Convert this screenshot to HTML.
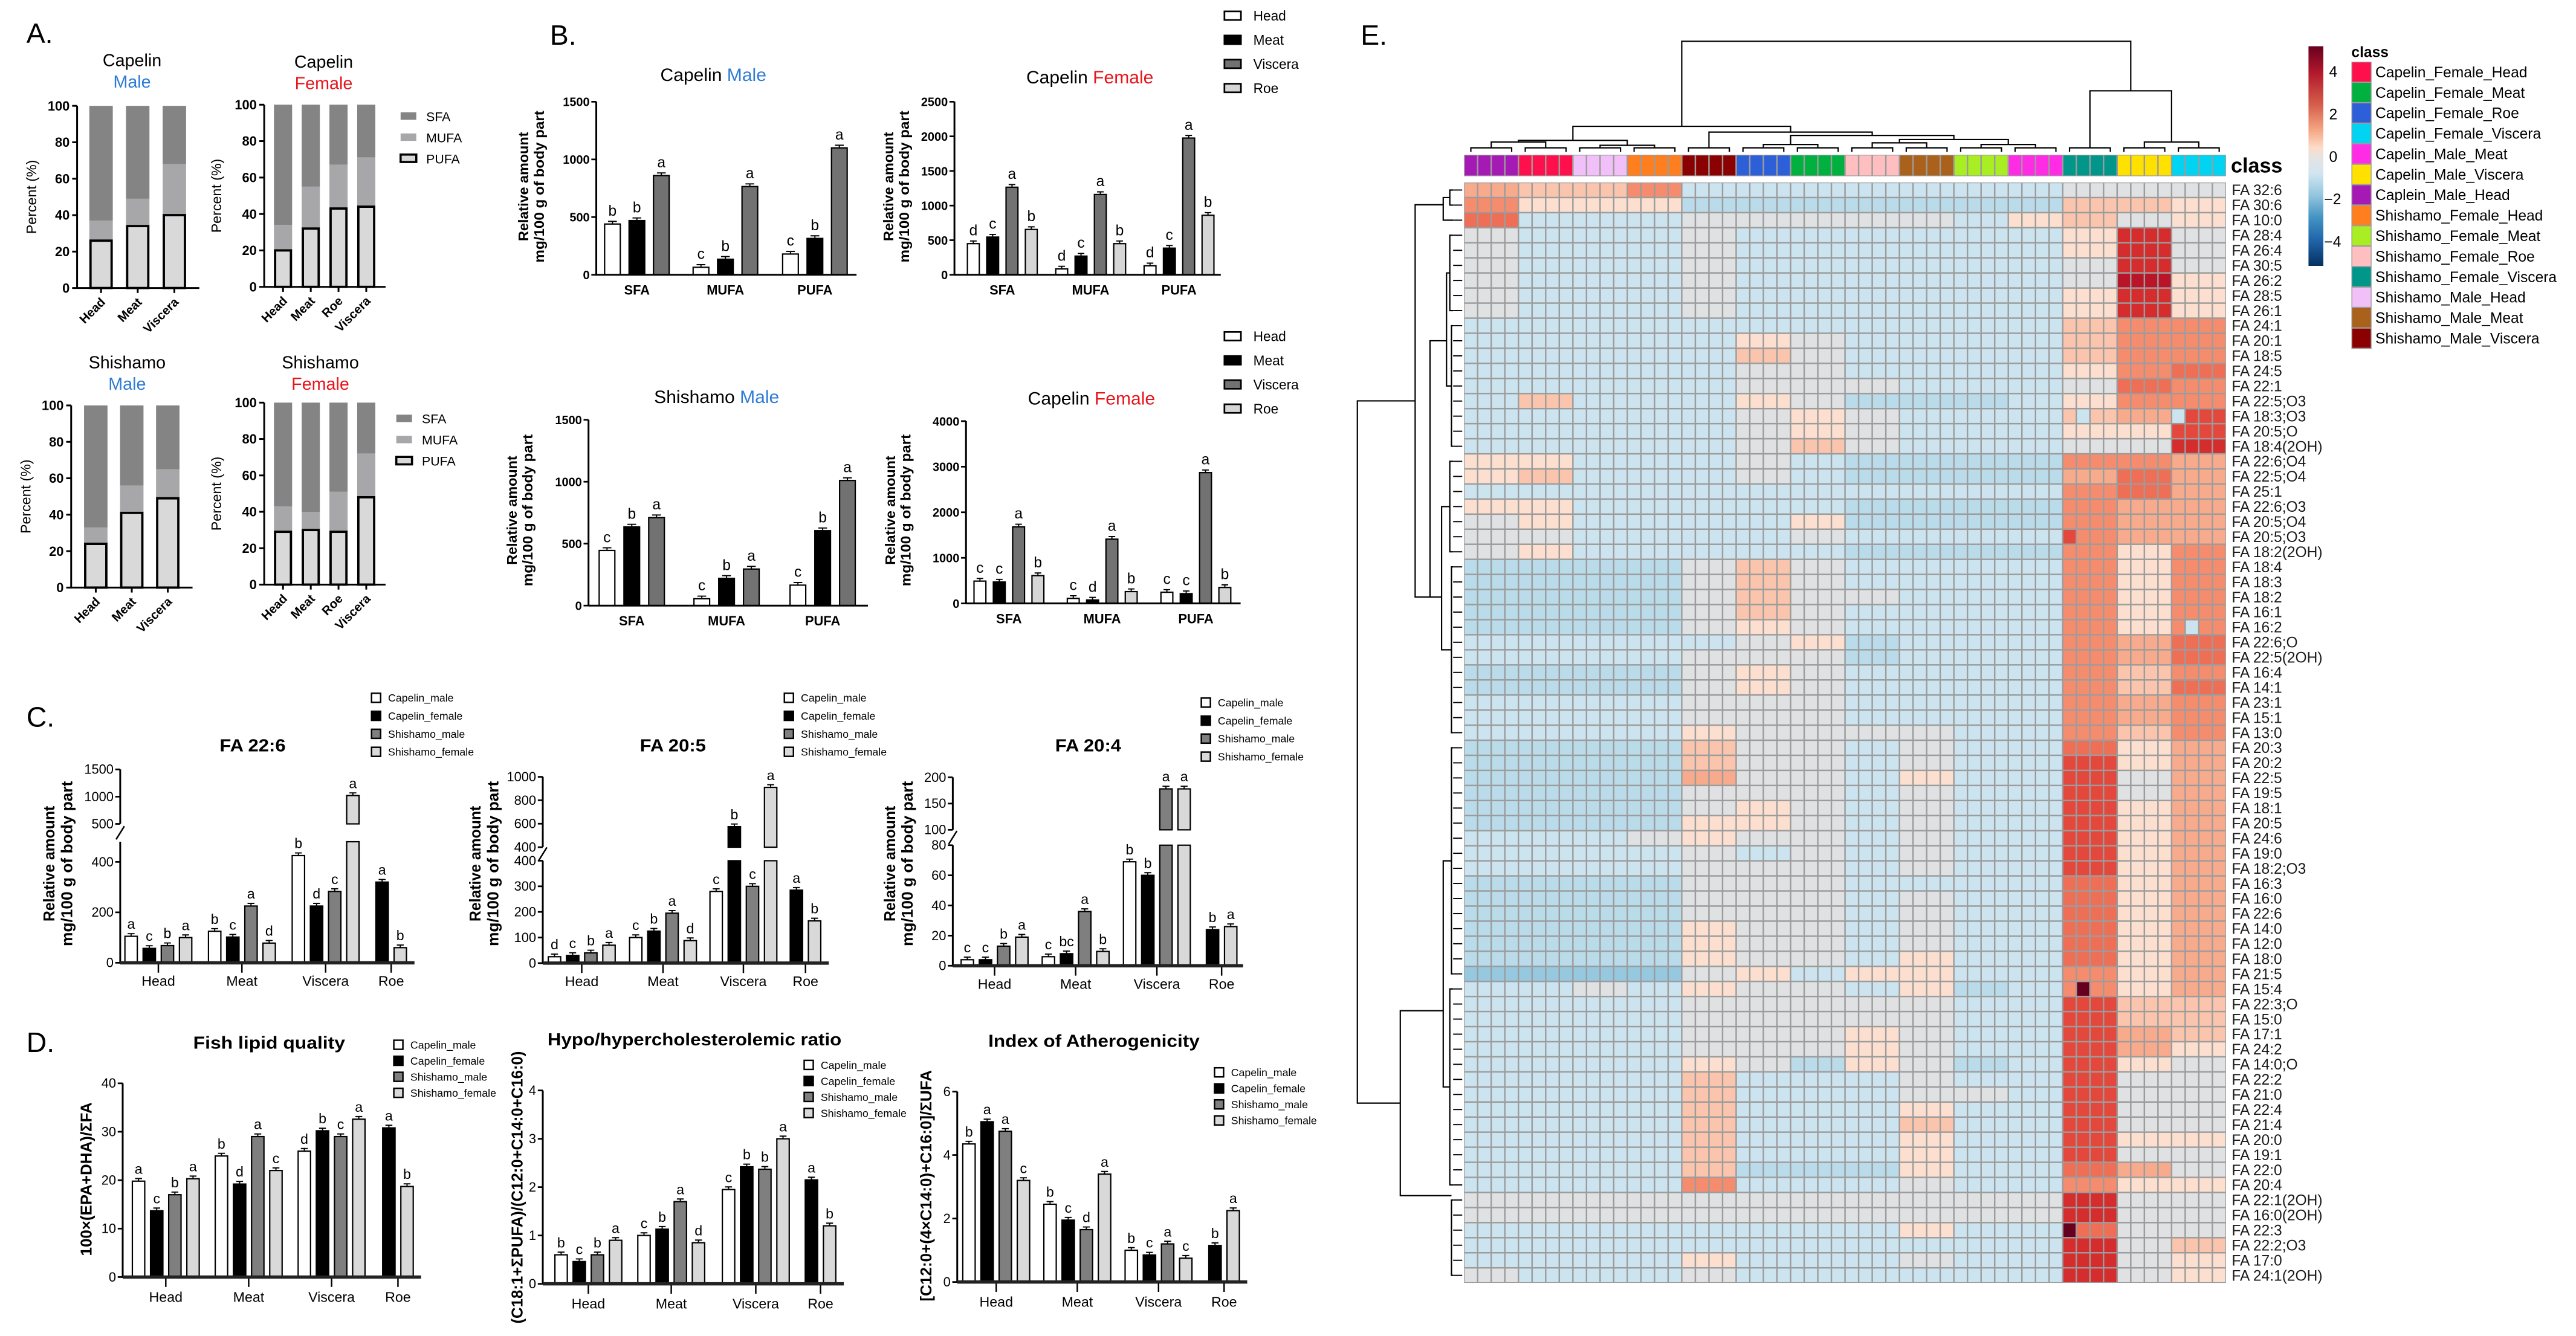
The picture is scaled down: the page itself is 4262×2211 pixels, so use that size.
<!DOCTYPE html>
<html><head><meta charset="utf-8">
<style>
html,body{margin:0;padding:0;background:#fff;}
svg{display:block}
text{font-family:"Liberation Sans",sans-serif;fill:#000;}
.n{font-family:"Liberation Sans Narrow","Liberation Sans",sans-serif;}
</style></head>
<body>
<svg id="fig" xmlns="http://www.w3.org/2000/svg" width="4262" height="2211" viewBox="0 0 1560 809" preserveAspectRatio="none"></svg>
<script>
// ---------- DATA ----------
const aTicks=[0,20,40,60,80,100];
const aCMcats=['Head','Meat','Viscera'];
const aCMpufa=[26,34,40];
const aCMmufa=[11,15,28];
const aCFcats=['Head','Meat','Roe','Viscera'];
const aCFpufa=[20,32,43,44];
const aCFmufa=[14,23,24,27];
const aSMcats=['Head','Meat','Viscera'];
const aSMpufa=[24,41,49];
const aSMmufa=[9,15,16];
const aSFcats=['Head','Meat','Roe','Viscera'];
const aSFpufa=[29,30,29,48];
const aSFmufa=[14,10,22,24];

const bCats=['SFA','MUFA','PUFA'];
const bCMhead=[440,65,180];
const bCMmeat=[470,135,315];
const bCMvisc=[860,765,1100];
const bCMlet=[['b','c','c'],['b','b','b'],['a','a','a']];
const bCMticks=[0,500,1000,1500];
const bCFhead=[450,85,130];
const bCFmeat=[545,270,385];
const bCFvisc=[1265,1160,1975];
const bCFroe=[655,450,860];
const bCFlet=[['d','d','d'],['c','c','c'],['a','a','a'],['b','b','b']];
const bCFticks=[0,500,1000,1500,2000,2500];
const bSMhead=[445,55,165];
const bSMmeat=[635,220,605];
const bSMvisc=[710,295,1010];
const bSMlet=[['c','c','c'],['b','b','b'],['a','a','a']];
const bSMticks=[0,500,1000,1500];
const bCF2head=[490,110,245];
const bCF2meat=[470,75,215];
const bCF2visc=[1680,1410,2870];
const bCF2roe=[610,260,350];
const bCF2let=[['c','c','c'],['c','d','c'],['a','a','a'],['b','b','b']];
const bCF2ticks=[0,1000,2000,3000,4000];

const cdCats=['Head','Meat','Viscera','Roe'];
const c226CM=[105,125,425,null];
const c226CF=[57,102,225,320];
const c226SM=[68,225,283,null];
const c226SF=[100,78,1020,60];
const c226Let=[['a','b','b',null],['c','c','d','a'],['b','a','c',null],['a','d','a','b']];
const c226TicksLow=[0,200,400];
const c226TicksUp=[500,1000,1500];
const c205CM=[25,100,280,null];
const c205CF=[30,125,575,285];
const c205SM=[40,195,300,null];
const c205SF=[70,88,910,165];
const c205Let=[['d','c','c',null],['c','b','b','a'],['b','a','c',null],['a','d','a','b']];
const c205TicksLow=[0,100,200,300,400];
const c205TicksUp=[400,600,800,1000];
const c204CM=[4,6,69,null];
const c204CF=[4,8,60,24];
const c204SM=[13,36,178,null];
const c204SF=[19,9.5,178,26];
const c204Let=[['c','c','b',null],['c','bc','b','b'],['b','a','a',null],['a','b','a','a']];
const c204TicksLow=[0,20,40,60,80];
const c204TicksUp=[100,150,200];

const dFLQ_CM=[19.8,25,26,null];
const dFLQ_CF=[13.7,19.2,30.2,30.8];
const dFLQ_SM=[17,29,29,null];
const dFLQ_SF=[20.3,22,32.6,18.7];
const dFLQLet=[['a','b','d',null],['c','d','b','a'],['b','a','c',null],['a','c','a','b']];
const dFLQTicks=[0,10,20,30,40];
const dHH_CM=[0.6,1.0,1.95,null];
const dHH_CF=[0.46,1.13,2.42,2.15];
const dHH_SM=[0.6,1.7,2.37,null];
const dHH_SF=[0.9,0.85,3.0,1.2];
const dHHLet=[['b','c','c',null],['c','b','b','a'],['b','a','b',null],['a','d','a','b']];
const dHHTicks=[0,1,2,3,4];
const dIA_CM=[4.35,2.45,1.0,null];
const dIA_CF=[5.05,1.95,0.85,1.15];
const dIA_SM=[4.75,1.65,1.2,null];
const dIA_SF=[3.2,3.4,0.75,2.25];
const dIALet=[['b','b','b',null],['a','c','c','b'],['a','d','a',null],['c','a','c','a']];
const dIATicks=[0,2,4,6];

const hmRowLabels=['FA 32:6','FA 30:6','FA 10:0','FA 28:4','FA 26:4','FA 30:5','FA 26:2','FA 28:5','FA 26:1','FA 24:1','FA 20:1','FA 18:5','FA 24:5','FA 22:1','FA 22:5;O3','FA 18:3;O3','FA 20:5;O','FA 18:4(2OH)','FA 22:6;O4','FA 22:5;O4','FA 25:1','FA 22:6;O3','FA 20:5;O4','FA 20:5;O3','FA 18:2(2OH)','FA 18:4','FA 18:3','FA 18:2','FA 16:1','FA 16:2','FA 22:6;O','FA 22:5(2OH)','FA 16:4','FA 14:1','FA 23:1','FA 15:1','FA 13:0','FA 20:3','FA 20:2','FA 22:5','FA 19:5','FA 18:1','FA 20:5','FA 24:6','FA 19:0','FA 18:2;O3','FA 16:3','FA 16:0','FA 22:6','FA 14:0','FA 12:0','FA 18:0','FA 21:5','FA 15:4','FA 22:3;O','FA 15:0','FA 17:1','FA 24:2','FA 14:0;O','FA 22:2','FA 21:0','FA 22:4','FA 21:4','FA 20:0','FA 19:1','FA 22:0','FA 20:4','FA 22:1(2OH)','FA 16:0(2OH)','FA 22:3','FA 22:2;O3','FA 17:0','FA 24:1(2OH)'];
const hmRows=['gffhcccccccddd','heeebbbbbbbffe','icccdddddcefde','dcccdccccccekd','dcccdccccccekd','dcccdccccccdkd','dcccdccccccdle','dcccdcccccceke','dcccdcccccceke','cccccccccccfhh','cccccedccccfhh','cccccfdccccfhh','cccccddccccehi','cccccdddcccdih','cfcccedbbbcehh','cccccdedcccfgj','cccccdedccceej','cccccdfdcccddk','eecccdcbbbbhhg','efcccdcbbbbgig','ccccccccccchig','eecccccbbbbhgg','deccccebbbbhgg','ddccccdcccchgg','decccccbbbbheh','bbbbdfdccccheh','bbbbdfdccccheh','bbbbdfddcccheh','bbbbdfdccccheh','bbbbdedccccheh','cccccdebccchgi','ccccdddbccchgi','bbbbdedcccchfh','bbbbdedcccchfi','ccccdddcccchgh','ccccdddcccchgh','cccceddddcchfh','bbbbfddcdccieg','bbbbfddcdccjeg','bbbbgddceccjdg','bbbbdddcdccjdg','bbbbdedcdccjeg','bbbbeedcdccjeg','cccdeddcdccjeg','ccccdcdcdccjeg','ccccdddcdccjeg','bbbbdddccccieg','bbbbdddcdccieg','bbbbdddcdccieg','bbbbeddcdccieg','bbbbeddcdccieg','bbbbeddceccieg','aaaadeceeccheg','ccdceddcebcheg','ccccdddddccjff','ccccdddddccjff','ccccdddedccjgf','ccccdddedccjge','ccccedbedbcjed','ccccfcccdccjdd','ccccfcccddcjdd','ccccfccceccjdd','ccccfcccfccjdd','ccccfccceccjee','ccccfccceccjdd','ccccfbbbeccigd','cccchcccdcchee','dddddddddddkdd','dddddddddddkdd','cccccccceccidd','ccccccccccckdf','ccccecccdcckde','dcccdcccccckde'];
const hmSpecial=[[15,44,'f'],[15,45,'c'],[15,52,'c'],[23,44,'j'],[29,53,'c'],[53,45,'m'],[69,44,'m']];
const hmLevels={a:-1.5,b:-1.0,c:-0.6,d:0,e:0.6,f:1.2,g:1.7,h:2.2,i:2.7,j:3.2,k:3.7,l:4.2,m:5.0};
const legendClasses=['Capelin_Female_Head','Capelin_Female_Meat','Capelin_Female_Roe','Capelin_Female_Viscera','Capelin_Male_Meat','Capelin_Male_Viscera','Caplein_Male_Head','Shishamo_Female_Head','Shishamo_Female_Meat','Shishamo_Female_Roe','Shishamo_Female_Viscera','Shishamo_Male_Head','Shishamo_Male_Meat','Shishamo_Male_Viscera'];
const scaleTicks=[4,2,0,-2,-4];

// ---------- HELPERS ----------
const NS='http://www.w3.org/2000/svg';
const svg=document.getElementById('fig');
function mk(tag,attrs,parent){const e=document.createElementNS(NS,tag);for(const k in attrs)e.setAttribute(k,attrs[k]);(parent||svg).appendChild(e);return e;}
function txt(s,attrs,parent){const e=mk('text',attrs,parent);e.textContent=s;return e;}
function grp(name){const g=mk('g',{});return g;}

// ---------- PANEL LABELS ----------
[['A.',16,26],['B.',333,27],['C.',16,440],['D.',16,637],['E.',824,27]].forEach(p=>{
  const t=txt(p[0],{x:p[1],y:p[2],'font-size':17});
  
  
});

// ---------- PANEL A ----------
function drawA(name,L,cats,pufa,mufa){
  const g=grp(name);
  const sy=v=>L.y0-(L.y0-L.y100)*v/100;
  cats.forEach((c,i)=>{
    const cx=L.c0+i*L.p, x=cx-L.w/2, top2=pufa[i]+mufa[i];
    const s=mk('rect',{x:x,y:sy(100),width:L.w,height:sy(top2)-sy(100),fill:'#848484'},g);
    
    
    const m=mk('rect',{x:x,y:sy(top2),width:L.w,height:sy(pufa[i])-sy(top2),fill:'#a7a7a9'},g);
    
    
    const p=mk('rect',{x:x+0.7,y:sy(pufa[i]),width:L.w-1.4,height:L.y0-sy(pufa[i]),fill:'#d9d9d9',stroke:'#000','stroke-width':1.4},g);
    
    
    const tk=mk('line',{x1:cx,x2:cx,y1:L.y0,y2:L.y0+3,stroke:'#000','stroke-width':1.1},g);
    
    
    const lb=txt(c,{x:cx+3,y:L.y0+9,'font-size':7.5,'font-weight':'bold','text-anchor':'end',transform:'rotate(-45 '+(cx+3)+' '+(L.y0+9)+')'},g);
    
    
  });
  const ya=mk('line',{x1:L.ax,x2:L.ax,y1:L.y100,y2:L.y0+0.5,stroke:'#000','stroke-width':1.1},g);
  
  
  const xa=mk('line',{x1:L.ax,x2:L.right,y1:L.y0,y2:L.y0,stroke:'#000','stroke-width':1.1},g);
  
  
  aTicks.forEach(t=>{
    const l=mk('line',{x1:L.ax-3,x2:L.ax,y1:sy(t),y2:sy(t),stroke:'#000','stroke-width':1.1},g);
    
    
    const tl=txt(String(t),{x:L.ax-4.5,y:sy(t)+2.8,'font-size':8,'font-weight':'bold','text-anchor':'end'},g);
    
    
  });
  const yt=txt('Percent (%)',{x:L.yt,y:(L.y0+L.y100)/2,'font-size':8.5,'text-anchor':'middle',transform:'rotate(-90 '+L.yt+' '+((L.y0+L.y100)/2)+')'},g);
  
  
  const t1=txt(L.sp,{x:L.tx,y:L.ty,'font-size':10.5,'text-anchor':'middle'},g);
  
  
  const t2=txt(L.sex,{x:L.tx,y:L.ty+13,'font-size':10.5,'text-anchor':'middle',style:'fill:'+(L.sex==='Male'?'#2e7bd6':'#e8141b')},g);
  
  
}
drawA('capelin-male-percent-chart',{ax:46.7,right:120.7,y0:174.4,y100:64.1,c0:61.2,p:22.2,w:14.2,yt:22,tx:80,ty:40,sp:'Capelin',sex:'Male'},aCMcats,aCMpufa,aCMmufa);
drawA('capelin-female-percent-chart',{ax:160,right:233.5,y0:173.7,y100:63.4,c0:171.4,p:16.8,w:11,yt:134,tx:196,ty:41,sp:'Capelin',sex:'Female'},aCFcats,aCFpufa,aCFmufa);
drawA('shishamo-male-percent-chart',{ax:43.1,right:116.6,y0:355.8,y100:245.5,c0:58,p:21.8,w:14.2,yt:18.5,tx:77,ty:223,sp:'Shishamo',sex:'Male'},aSMcats,aSMpufa,aSMmufa);
drawA('shishamo-female-percent-chart',{ax:160,right:233.5,y0:354,y100:243.8,c0:171.4,p:16.8,w:11,yt:134,tx:194,ty:223,sp:'Shishamo',sex:'Female'},aSFcats,aSFpufa,aSFmufa);

function legendA(x,y,name){
  const g=grp(name);
  [['SFA','#848484',0],['MUFA','#a7a7a9',0],['PUFA','#d9d9d9',1]].forEach((e,i)=>{
    const r=mk('rect',{x:x,y:y+i*12.8-2.5,width:9.5,height:4.5,fill:e[1],stroke:e[2]?'#000':'none','stroke-width':1.3},g);
    
    
    const t=txt(e[0],{x:x+15.5,y:y+i*12.8+2.8,'font-size':7.8},g);
    
    
  });
}
legendA(242.6,70.5,'legend-a-top');
legendA(240,253.6,'legend-a-bottom');

// ---------- GROUPED BAR CHART (B,C,D) ----------
function drawG(name,L,cats,series,fills,letters,tickSets){
  const g=grp(name);
  const segs=L.segs;
  const sc=(s,v)=>s.r0+(v-s.d0)*(s.r1-s.r0)/(s.d1-s.d0);
  const yOf=v=>{let s=segs[0];for(const q of segs){if(v>=q.d0)s=q;}return sc(s,Math.min(v,s.d1));};
  const cls=L.narrow?'n':'';
  cats.forEach((c,i)=>{
    const present=[];
    series.forEach((arr,k)=>{if(arr[i]!==null&&arr[i]!==undefined)present.push(k);});
    const n=present.length;
    present.forEach((k,j)=>{
      const v=series[k][i];
      const cx=L.centers[i]+(j-(n-1)/2)*L.pitch, x=cx-L.w/2;
      segs.forEach((s,si)=>{
        if(si>0&&v<=s.d0)return;
        const top=Math.min(v,s.d1);
        const y1=sc(s,top), yb=sc(s,s.d0);
        const r=mk('rect',{x:x,y:y1,width:L.w,height:Math.max(0,yb-y1),fill:fills[k],stroke:'#000','stroke-width':0.8},g);
        
        
      });
      const yt=yOf(v);
      const eb=mk('path',{d:'M'+cx+' '+yt+'V'+(yt-1.6)+'M'+(cx-L.w*0.28)+' '+(yt-1.6)+'H'+(cx+L.w*0.28),stroke:'#000','stroke-width':0.7,fill:'none'},g);
      
      
      const lt=letters[k][i];
      if(lt){
        const lb=txt(lt,{x:cx,y:yt-L.letDy,'font-size':L.fsLet,'text-anchor':'middle',class:cls},g);
        
        
      }
    });
    if(L.catTicks){
      const tk=mk('line',{x1:L.centers[i],x2:L.centers[i],y1:L.y0,y2:L.y0+6,stroke:'#000','stroke-width':0.9},g);
      
      
    }
    const cl=txt(c,{x:L.centers[i],y:L.y0+L.catDy,'font-size':L.fsCat,'font-weight':L.narrow?'normal':'bold','text-anchor':'middle',class:cls},g);
    
    
  });
  segs.forEach((s,si)=>{
    const a=mk('line',{x1:L.ax,x2:L.ax,y1:s.r0+(si===0?0.5:0),y2:s.r1,stroke:'#000','stroke-width':1.1},g);
    
    
    tickSets[si].forEach(t=>{
      const y=sc(s,t);
      const l=mk('line',{x1:L.ax-3,x2:L.ax,y1:y,y2:y,stroke:'#000','stroke-width':1},g);
      
      
      const tl=txt(String(t),{x:L.ax-4,y:y+2.7,'font-size':L.fsTick,'font-weight':L.narrow?'normal':'bold','text-anchor':'end',class:cls},g);
      
      
    });
    if(si>0){
      const ym=(segs[si-1].r1+s.r0)/2;
      const bk=mk('path',{d:'M'+(L.ax-2.5)+' '+(ym+4)+'L'+(L.ax+2.5)+' '+(ym-4),stroke:'#000','stroke-width':0.9,fill:'none'},g);
      
      
    }
  });
  const xa=mk('line',{x1:L.ax,x2:L.right,y1:L.y0,y2:L.y0,stroke:L.narrow?'#222':'#000','stroke-width':L.xw},g);
  
  
  return g;
}
function yTitle(lines,x,y,fs,lens,name){
  lines.forEach((s,i)=>{
    const xx=x+i*(fs+1.2);
    const a={x:xx,y:y,'font-size':fs,'font-weight':'bold','text-anchor':'middle',transform:'rotate(-90 '+xx+' '+y+')'};
    if(lens&&lens[i]){a.textLength=lens[i];a.lengthAdjust='spacingAndGlyphs';}
    const t=txt(s,a);
    
    
  });
}
function titleParts(x,y,a,b,col,fs,name){
  const t=txt('',{x:x,y:y,'font-size':fs,'text-anchor':'middle'});
  
  
  const s1=mk('tspan',{},t);s1.textContent=a+' ';
  
  
  const s2=mk('tspan',{style:'fill:'+col},t);s2.textContent=b;
  
  
}

// ---------- PANEL B ----------
const bFills=['#ffffff','#000000','#727272','#d6d6d6'];
const bNames=['head','meat','viscera','roe'];
const bBase={narrow:false,fsTick:7.3,fsLet:9,letDy:5,fsCat:8,catDy:12,catTicks:false,xw:1.1,sNames:bNames};
drawG('capelin-male-amount-chart',Object.assign({},bBase,{ax:361.1,right:518.7,y0:166.4,segs:[{d0:0,d1:1500,r0:166.4,r1:61.6}],centers:[385.7,439.3,493.5],pitch:14.8,w:9.5}),bCats,[bCMhead,bCMmeat,bCMvisc],bFills,bCMlet,[bCMticks]);
drawG('capelin-female-amount-chart',Object.assign({},bBase,{ax:578,right:739.3,y0:166.4,segs:[{d0:0,d1:2500,r0:166.4,r1:61.6}],centers:[607,660.5,714],pitch:11.7,w:7.2}),bCats,[bCFhead,bCFmeat,bCFvisc,bCFroe],bFills,bCFlet,[bCFticks]);
drawG('shishamo-male-amount-chart',Object.assign({},bBase,{ax:356.4,right:525.6,y0:366.7,segs:[{d0:0,d1:1500,r0:366.7,r1:254.2}],centers:[382.6,440,498.2],pitch:15,w:9.5}),bCats,[bSMhead,bSMmeat,bSMvisc],bFills,bSMlet,[bSMticks]);
drawG('capelin-female-amount-chart-2',Object.assign({},bBase,{ax:585,right:751.3,y0:365.4,segs:[{d0:0,d1:4000,r0:365.4,r1:255}],centers:[611,667.5,724.2],pitch:11.7,w:7.2}),bCats,[bCF2head,bCF2meat,bCF2visc,bCF2roe],bFills,bCF2let,[bCF2ticks]);
titleParts(432,49,'Capelin','Male','#2e7bd6',11,'title-capelin-male');
titleParts(660,50.5,'Capelin','Female','#e8141b',11,'title-capelin-female');
titleParts(434,244,'Shishamo','Male','#2e7bd6',11,'title-shishamo-male');
titleParts(661,245,'Capelin','Female','#e8141b',11,'title-capelin-female-2');
yTitle(['Relative amount','mg/100 g of body part'],320,113,8.3,[66,92],'y-axis-title-b1');
yTitle(['Relative amount','mg/100 g of body part'],541,113,8.3,[66,92],'y-axis-title-b2');
yTitle(['Relative amount','mg/100 g of body part'],313,309,8.3,[66,92],'y-axis-title-b3');
yTitle(['Relative amount','mg/100 g of body part'],542,309,8.3,[66,92],'y-axis-title-b4');
function legendB(x,y,name){
  const g=grp(name);
  ['Head','Meat','Viscera','Roe'].forEach((s,i)=>{
    const r=mk('rect',{x:x,y:y+i*14.6-2.6,width:10,height:5.2,fill:bFills[i],stroke:'#000','stroke-width':1},g);
    
    
    const t=txt(s,{x:x+17.5,y:y+i*14.6+3,'font-size':8.3},g);
    
    
  });
}
legendB(741.5,9.5,'legend-b-top');
legendB(741.5,203.6,'legend-b-bottom');

// ---------- PANEL C / D ----------
const cFills=['#ffffff','#000000','#7f7f7f','#d9d9d9'];
const cNames=['capelin-male','capelin-female','shishamo-male','shishamo-female'];
const cBase={narrow:true,fsTick:8,fsLet:8.5,letDy:4.5,fsCat:8.5,catTicks:true,xw:2,pitch:11,w:7.5,sNames:cNames};
drawG('fa-22-6-chart',Object.assign({},cBase,{ax:72.8,right:251,y0:583,catDy:14,segs:[{d0:0,d1:480,r0:583,r1:509.7},{d0:500,d1:1500,r0:498.9,r1:465.9}],centers:[95.9,146.5,197.2,236.9]}),cdCats,[c226CM,c226CF,c226SM,c226SF],cFills,c226Let,[c226TicksLow,c226TicksUp]);
drawG('fa-20-5-chart',Object.assign({},cBase,{ax:328.7,right:501.9,y0:583.2,catDy:14,segs:[{d0:0,d1:400,r0:583.2,r1:521.2},{d0:400,d1:1000,r0:513,r1:470.4}],centers:[352.3,401.5,450.2,487.8]}),cdCats,[c205CM,c205CF,c205SM,c205SF],cFills,c205Let,[c205TicksLow,c205TicksUp]);
drawG('fa-20-4-chart',Object.assign({},cBase,{ax:577,right:752.8,y0:584.8,catDy:14,segs:[{d0:0,d1:80,r0:584.8,r1:511.8},{d0:100,d1:200,r0:502.5,r1:470.7}],centers:[602.3,651.4,700.6,739.8]}),cdCats,[c204CM,c204CF,c204SM,c204SF],cFills,c204Let,[c204TicksLow,c204TicksUp]);
drawG('fish-lipid-quality-chart',Object.assign({},cBase,{ax:74.3,right:255,y0:773.3,catDy:15,segs:[{d0:0,d1:40,r0:773.3,r1:656}],centers:[100.4,150.6,200.8,241]}),cdCats,[dFLQ_CM,dFLQ_CF,dFLQ_SM,dFLQ_SF],cFills,dFLQLet,[dFLQTicks]);
drawG('hypo-hypercholesterolemic-chart',Object.assign({},cBase,{ax:328.7,right:511,y0:777.4,catDy:15,segs:[{d0:0,d1:4,r0:777.4,r1:660.3}],centers:[356.3,406.5,457.7,496.9]}),cdCats,[dHH_CM,dHH_CF,dHH_SM,dHH_SF],cFills,dHHLet,[dHHTicks]);
drawG('atherogenicity-chart',Object.assign({},cBase,{ax:579.7,right:755.3,y0:776.3,catDy:15,segs:[{d0:0,d1:6,r0:776.3,r1:661}],centers:[603.3,652.4,701.6,741.3]}),cdCats,[dIA_CM,dIA_CF,dIA_SM,dIA_SF],cFills,dIALet,[dIATicks]);

function cTitle(s,x,y,len,name){
  const t=txt(s,{x:x,y:y,'font-size':10.5,'font-weight':'bold','text-anchor':'middle',class:'n',textLength:len,lengthAdjust:'spacingAndGlyphs'});
  
  
}
cTitle('FA 22:6',153,455,40,'title-fa-22-6');
cTitle('FA 20:5',407.5,455,40,'title-fa-20-5');
cTitle('FA 20:4',659,455,40,'title-fa-20-4');
cTitle('Fish lipid quality',163,635,92,'title-fish-lipid-quality');
cTitle('Hypo/hypercholesterolemic ratio',420.6,633,178,'title-hypo-hyper-ratio');
cTitle('Index of Atherogenicity',662.5,634,128,'title-index-atherogenicity');
yTitle(['Relative amount','mg/100 g of body part'],33,523,9.5,[70,100],'y-axis-title-c1');
yTitle(['Relative amount','mg/100 g of body part'],291,523,9.5,[70,100],'y-axis-title-c2');
yTitle(['Relative amount','mg/100 g of body part'],542,523,9.5,[70,100],'y-axis-title-c3');
yTitle(['100×(EPA+DHA)/ΣFA'],55.5,714,9.5,[93],'y-axis-title-d1');
yTitle(['(C18:1+ΣPUFA)/(C12:0+C14:0+C16:0)'],316.5,719,9.5,[165],'y-axis-title-d2');
yTitle(['[C12:0+(4×C14:0)+C16:0]/ΣUFA'],564,718,9.5,[140],'y-axis-title-d3');
function legendC(x,y,sp,name){
  const g=grp(name);
  ['Capelin_male','Capelin_female','Shishamo_male','Shishamo_female'].forEach((s,i)=>{
    const r=mk('rect',{x:x,y:y+i*sp-2.8,width:5.5,height:5.5,fill:cFills[i],stroke:'#000','stroke-width':0.9},g);
    
    
    const t=txt(s,{x:x+10,y:y+i*sp+2.3,'font-size':6.5,class:'n'},g);
    
    
  });
}
legendC(225,422.6,10.9,'legend-fa-22-6');
legendC(475,422.6,10.9,'legend-fa-20-5');
legendC(727.5,425.5,10.9,'legend-fa-20-4');
legendC(238.5,632.7,9.7,'legend-fish-lipid-quality');
legendC(487,644.9,9.7,'legend-hypo-hyper');
legendC(735.5,649.4,9.7,'legend-atherogenicity');

// ---------- PANEL E : HEATMAP ----------
const hmX0=886.6, hmCW=8.24, hmY0=110.5, hmRH=9.128, hmNC=56, hmNR=hmRows.length;
const groupColors=['#A51AB4','#FF0F4B','#F2C0F8','#FF7F1E','#8B0000','#2D5FD8','#00B140','#FFBFC0','#A9611C','#A8EE22','#FF2BE5','#00978A','#FFE100','#00D4F2'];
const legendColors=['#FF0F4B','#00B140','#2D5FD8','#00D4F2','#FF2BE5','#FFE100','#A51AB4','#FF7F1E','#A8EE22','#FFBFC0','#00978A','#F2C0F8','#A9611C','#8B0000'];
const stops=[[-5,[5,48,97]],[-3.75,[33,102,172]],[-2.5,[67,147,195]],[-1.5,[150,200,224]],[-1.0,[186,219,234]],[-0.6,[204,228,239]],[0,[223,225,227]],[0.6,[252,223,207]],[1.2,[250,197,172]],[1.7,[248,170,140]],[2.2,[245,140,110]],[2.7,[239,110,86]],[3.2,[228,72,60]],[3.7,[213,44,46]],[4.2,[186,20,40]],[5,[103,0,31]]];
function col(v){
  if(v<=stops[0][0])return 'rgb('+stops[0][1]+')';
  for(let i=1;i<stops.length;i++){
    if(v<=stops[i][0]){const a=stops[i-1],b=stops[i],t=(v-a[0])/(b[0]-a[0]);
      return 'rgb('+a[1].map((c,k)=>Math.round(c+(b[1][k]-c)*t)).join(',')+')';}
  }
  return 'rgb('+stops[stops.length-1][1]+')';
}
const hm=grp('heatmap');
const bg=mk('rect',{x:hmX0,y:hmY0,width:hmNC*hmCW,height:hmNR*hmRH,fill:'#9c9c9c'},hm);


const cbg=mk('rect',{x:hmX0,y:93.7,width:hmNC*hmCW,height:13,fill:'#9c9c9c'},hm);


for(let c=0;c<hmNC;c++){
  const cr=mk('rect',{x:hmX0+c*hmCW+0.45,y:94.15,width:hmCW-0.9,height:12.1,fill:groupColors[Math.floor(c/4)]},hm);
  
  
}
const special={};
hmSpecial.forEach(s=>{special[s[0]+'_'+s[1]]=s[2];});
hmRows.forEach((row,r)=>{
  for(let c=0;c<hmNC;c++){
    let ch=row[Math.floor(c/4)];
    if(special[r+'_'+c])ch=special[r+'_'+c];
    const cell=mk('rect',{x:hmX0+c*hmCW+0.45,y:hmY0+r*hmRH+0.45,width:hmCW-0.9,height:hmRH-0.9,fill:col(hmLevels[ch])},hm);
    
    
  }
  const rl=txt(hmRowLabels[r],{x:1351.5,y:hmY0+r*hmRH+hmRH/2+3.2,'font-size':9,style:'fill:#1a1a1a'},hm);
  
  
});
const clsLbl=txt('class',{x:1351,y:104.5,'font-size':12.5,'font-weight':'bold'},hm);



// dendrograms (schematic)
const dg=grp('column-dendrogram');
const gc=g=>hmX0+(g*4+2)*hmCW;
function link(x1,y1,x2,y2,yj,parent,name){
  const p=mk('path',{d:'M'+x1+' '+y1+'V'+yj+'H'+x2+'V'+y2,stroke:'#000','stroke-width':0.8,fill:'none'},parent);
  
  
}
for(let g=0;g<14;g++){
  const a=hmX0+(g*4+0.5)*hmCW,b=hmX0+(g*4+3.5)*hmCW;
  link(a,92,b,92,89.5,dg,'leaf-link');
}
link(gc(0),89.5,gc(1),89.5,86,dg,'branch-link');
link(gc(2),89.5,gc(3),89.5,88,dg,'branch-link');
const L1=(gc(0)+gc(1))/2,L2=(gc(2)+gc(3))/2;
link(L1,86,L2,88,85,dg,'branch-link');
link(gc(5),89.5,gc(6),89.5,87.5,dg,'branch-link');
link(gc(7),89.5,gc(8),89.5,86.5,dg,'branch-link');
link(gc(9),89.5,gc(10),89.5,87.5,dg,'branch-link');
const R3=(gc(7)+gc(8))/2,R4=(gc(9)+gc(10))/2;
link(R3,86.5,R4,87.5,84.5,dg,'branch-link');
const R2=(gc(5)+gc(6))/2,R34=(R3+R4)/2;
link(R2,87.5,R34,84.5,82,dg,'branch-link');
const R1=(R2+R34)/2;
link(gc(4),89.5,R1,82,80,dg,'branch-link');
const LL=(L1+L2)/2,RR=(gc(4)+R1)/2;
link(LL,85,RR,80,76.5,dg,'branch-link');
link(gc(12),89.5,gc(13),89.5,86,dg,'branch-link');
const YC=(gc(12)+gc(13))/2;
link(gc(11),89.5,YC,86,55,dg,'branch-link');
const LEFT=(LL+RR)/2,RIGHT=(gc(11)+YC)/2;
link(LEFT,76.5,RIGHT,55,25,dg,'root-link');

const rg=grp('row-dendrogram');
const ry=r=>hmY0+r*hmRH+hmRH/2;
for(let r=0;r<hmNR;r++){
  const l=mk('line',{x1:880,x2:885.5,y1:ry(r),y2:ry(r),stroke:'#000','stroke-width':0.7},rg);
  
  
}
function vlink(xj,y1,y2,x1,x2,name){
  const p=mk('path',{d:'M'+x1+' '+y1+'H'+xj+'V'+y2+'H'+x2,stroke:'#000','stroke-width':0.8,fill:'none'},rg);
  
  
}
vlink(878,ry(0),ry(1),880,880,'row-link');
vlink(874,(ry(0)+ry(1))/2,ry(2),878,880,'row-link');
vlink(878,ry(3),ry(8),880,880,'row-link');
vlink(879,ry(9),ry(17),880,880,'row-link');
vlink(876,(ry(3)+ry(8))/2,(ry(9)+ry(17))/2,878,879,'row-link');
vlink(878,ry(18),ry(24),880,880,'row-link');
vlink(879,ry(25),ry(36),880,880,'row-link');
vlink(873,(ry(18)+ry(24))/2,(ry(25)+ry(36))/2,878,879,'row-link');
vlink(866,(ry(3)+ry(17))/2,(ry(18)+ry(36))/2,876,873,'row-link');
vlink(857,124,ry(27),874,866,'row-link');
vlink(879,ry(37),ry(52),880,880,'row-link');
vlink(878,ry(53),ry(66),880,880,'row-link');
vlink(874,(ry(37)+ry(52))/2,(ry(53)+ry(66))/2,879,878,'row-link');
vlink(879,ry(67),ry(72),880,880,'row-link');
vlink(848,612,724,874,879,'row-link');
vlink(822,(124+ry(27))/2,668,857,848,'row-root');

// color scale legend
const lg=grp('heatmap-legend');
const defs=mk('defs',{},lg);


const grad=mk('linearGradient',{id:'cscale',x1:0,y1:0,x2:0,y2:1},defs);


[['0','#67001f'],['0.12','#b2182b'],['0.27','#d6604d'],['0.38','#f4a582'],['0.46','#fddbc7'],['0.51','#e4e4e4'],['0.58','#d1e5f0'],['0.68','#92c5de'],['0.78','#4393c3'],['0.88','#2166ac'],['1','#053061']].forEach(s=>{
  const st=mk('stop',{offset:s[0],'stop-color':s[1]},grad);
  
  
});
const cb=mk('rect',{x:1398,y:28,width:9,height:133,fill:'url(#cscale)'},lg);


scaleTicks.forEach(v=>{
  const t=txt(v<0?'\u2212'+(-v):String(v),{x:v<0?1407.5:1410.5,y:94.8-v*12.86+3.2,'font-size':9},lg);
  
  
});
const lt=txt('class',{x:1424,y:34.5,'font-size':9,'font-weight':'bold'},lg);


const lbg=mk('rect',{x:1424,y:37.4,width:12.2,height:14*12.4+0.4,fill:'#9c9c9c'},lg);


legendClasses.forEach((s,i)=>{
  const r=mk('rect',{x:1424.5,y:37.8+i*12.4,width:11.2,height:11.6,fill:legendColors[i]},lg);
  
  
  const t=txt(s,{x:1438.5,y:37.8+i*12.4+9,'font-size':9},lg);
  
  
});
</script>
</body></html>
